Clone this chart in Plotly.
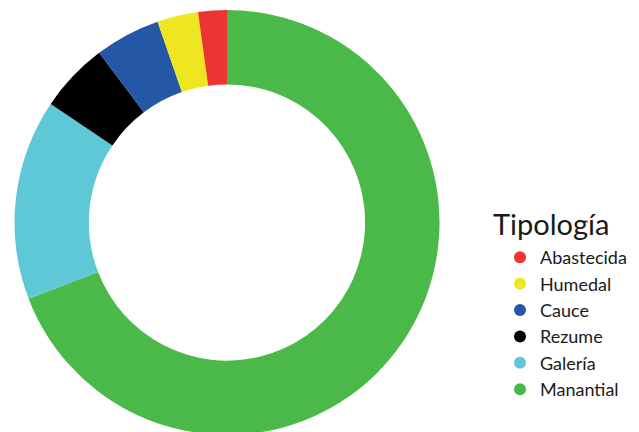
import plotly.graph_objects as go

categories = ["Manantial", "Galería", "Rezume", "Cauce", "Humedal", "Abastecida"]
values = [222, 49, 17, 16, 10, 7]
colors = ["#4BB84A", "#5EC8D7", "#000000", "#2457A5", "#EEE620", "#EE3432"]
legend_title = "Tipología"

FONT = "Lato, 'Open Sans', sans-serif"
W, H = 639, 432
TOP = 2
PH = H - TOP
CX, R = 219, 212.5

fig = go.Figure()
fig.add_trace(go.Pie(
    labels=categories,
    values=values,
    marker=dict(colors=colors, line=dict(width=0)),
    hole=0.65,
    sort=False,
    direction="clockwise",
    rotation=0,
    textinfo="none",
    hoverinfo="label+value+percent",
    showlegend=False,
    domain=dict(x=[(CX - R) / W, (CX + R) / W], y=[5 / PH, 1]),
))

# legend entries with round markers (reversed order, as in the reference)
for name, col in zip(categories[::-1], colors[::-1]):
    fig.add_trace(go.Scatter(
        x=[None], y=[None], mode="markers", name=name,
        marker=dict(color=col, size=10, symbol="circle"),
        hoverinfo="skip",
    ))

fig.add_annotation(
    text=legend_title, xref="paper", yref="paper",
    x=483 / W, y=1 - (196 - TOP) / PH,
    xanchor="left", yanchor="top", showarrow=False,
    font=dict(size=29, family=FONT, color="#1a1a1a"),
)

fig.update_layout(
    width=W, height=H,
    margin=dict(l=0, r=0, t=TOP, b=0),
    paper_bgcolor="white",
    plot_bgcolor="white",
    font=dict(family=FONT, color="#1a1a1a"),
    xaxis=dict(visible=False),
    yaxis=dict(visible=False),
    legend=dict(
        font=dict(size=18, family=FONT, color="#1a1a1a"),
        x=(W - 15) / W, xanchor="right",
        y=1 - (231 - TOP) / PH, yanchor="top",
        bgcolor="rgba(0,0,0,0)",
        tracegroupgap=0,
        itemsizing="constant",
    ),
)

fig.write_html("out.html")
